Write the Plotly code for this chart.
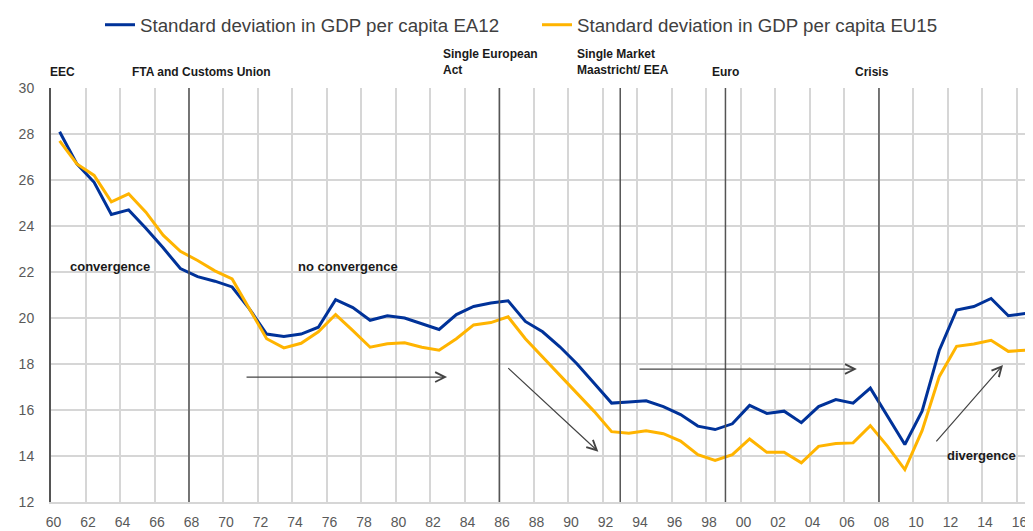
import plotly.graph_objects as go

# ---------------- data ----------------
years = list(range(1960, 2017))

ea12 = [28.1, 26.7, 25.9, 24.5, 24.7, 23.9, 23.05, 22.15, 21.8, 21.6,
        21.35, 20.4, 19.3, 19.2, 19.3, 19.6, 20.8, 20.45, 19.9, 20.1,
        20.0, 19.75, 19.5, 20.15, 20.5, 20.65, 20.75, 19.85, 19.4, 18.75,
        18.0, 17.15, 16.3, 16.35, 16.4, 16.15, 15.8, 15.3, 15.15, 15.4,
        16.2, 15.85, 15.95, 15.45, 16.15, 16.45, 16.3, 16.95, 15.7, 14.5,
        15.95, 18.6, 20.35, 20.5, 20.85, 20.1, 20.2]

eu15 = [27.7, 26.7, 26.2, 25.05, 25.4, 24.6, 23.6, 22.9, 22.5, 22.05,
        21.7, 20.4, 19.1, 18.7, 18.9, 19.4, 20.15, 19.45, 18.73, 18.88,
        18.92, 18.73, 18.6, 19.1, 19.7, 19.8, 20.05, 19.1, 18.3, 17.5,
        16.72, 15.93, 15.06, 14.99, 15.1, 14.97, 14.65, 14.06, 13.81, 14.06,
        14.74, 14.16, 14.16, 13.70, 14.42, 14.54, 14.57, 15.32, 14.42, 13.41,
        15.1, 17.46, 18.77, 18.87, 19.03, 18.55, 18.6]

tick_years = list(range(1960, 2017, 2))
tick_labels = [f"{y % 100:02d}" for y in tick_years]
y_ticks = list(range(12, 31, 2))

series_names = ["Standard deviation in GDP per capita EA12",
                "Standard deviation in GDP per capita EU15"]

# event markers: (label, year boundary of the vertical line)
event_labels = ["EEC", "FTA and Customs Union", "Single European<br>Act",
                "Single Market<br>Maastricht/ EEA", "Euro", "Crisis"]
event_years = [1959.5, 1967.5, 1985.5, 1992.5, 1998.6, 2007.5]

phase_labels = ["convergence", "no convergence", "divergence"]

# ---------------- style ----------------
BLUE = "#003299"
YELLOW = "#FFB400"
GRID = "#d6d6d6"
DARK = "#555555"
FONT = "Liberation Sans, Arial, sans-serif"

fig = go.Figure()
fig.add_trace(go.Scatter(x=years, y=ea12, mode="lines", name=series_names[0],
                         line=dict(color=BLUE, width=3)))
fig.add_trace(go.Scatter(x=years, y=eu15, mode="lines", name=series_names[1],
                         line=dict(color=YELLOW, width=3)))

# vertical event lines (EEC line is the y axis itself)
for ex in event_years[1:]:
    fig.add_shape(type="line", xref="x", yref="y", x0=ex, x1=ex, y0=12, y1=30,
                  line=dict(color=DARK, width=1.5), layer="above")

# event labels above plot (paper coordinates)
label_pos = [(-0.003, 1.0386), (0.0804, 1.0386), (0.397, 1.0616),
             (0.534, 1.0616), (0.671, 1.0386), (0.817, 1.0386)]
for txt, (lx, ly) in zip(event_labels, label_pos):
    fig.add_annotation(x=lx, y=ly, xref="paper", yref="paper", text=f"<b>{txt}</b>",
                       showarrow=False, xanchor="left", yanchor="middle",
                       align="left", font=dict(family=FONT, size=12, color="#1a1a1a"))

phase_pos = [(1960.49, 22.22), (1973.70, 22.22), (2011.33, 14.04)]
for txt, (lx, ly) in zip(phase_labels, phase_pos):
    fig.add_annotation(x=lx, y=ly, xref="x", yref="y", text=f"<b>{txt}</b>",
                       showarrow=False, xanchor="left", yanchor="middle",
                       font=dict(family=FONT, size=13, color="#1a1a1a"))

# arrows: (tail_x, tail_y, head_x, head_y)
arrows = [(1970.75, 17.43, 1982.46, 17.43),
          (1985.92, 17.88, 1991.23, 14.19),
          (1993.53, 17.78, 2006.22, 17.78),
          (2010.75, 14.57, 2014.69, 17.96)]
for tx, ty, hx, hy in arrows:
    fig.add_annotation(x=hx, y=hy, ax=tx, ay=ty, xref="x", yref="y",
                       axref="x", ayref="y", text="", showarrow=True,
                       arrowhead=5, arrowsize=1.6, arrowwidth=1.2,
                       arrowcolor="#444444")

fig.update_layout(
    width=1025, height=523,
    margin=dict(l=43, r=0, t=80, b=29, autoexpand=False),
    paper_bgcolor="white", plot_bgcolor="white",
    font=dict(family=FONT, color="#404040"),
    showlegend=True,
    legend=dict(orientation="h", x=0.0499, xanchor="left", y=1.152,
                yanchor="middle", font=dict(family=FONT, size=18.7, color="#404040"),
                bgcolor="rgba(0,0,0,0)", entrywidth=392, entrywidthmode="pixels"),
    xaxis=dict(range=[1959.5, 2016.43], tickmode="array",
               tickvals=[y - 0.35 for y in tick_years], ticktext=tick_labels,
               showgrid=False, zeroline=False,
               minor=dict(tickmode="array", tickvals=[y - 0.5 for y in tick_years],
                          showgrid=True, gridcolor=GRID, gridwidth=1.5),
               showline=True, linecolor=GRID, linewidth=2,
               tickfont=dict(family=FONT, size=14, color="#595959"),
               ticks="", ticklabelstandoff=6),
    yaxis=dict(range=[12, 30], tickmode="array", tickvals=y_ticks,
               showgrid=True, gridcolor=GRID, gridwidth=1.5, zeroline=False,
               showline=True, linecolor=DARK, linewidth=2,
               tickfont=dict(family=FONT, size=14, color="#595959"),
               ticks="", ticklabelstandoff=12),
)

fig.write_html("out.html")
